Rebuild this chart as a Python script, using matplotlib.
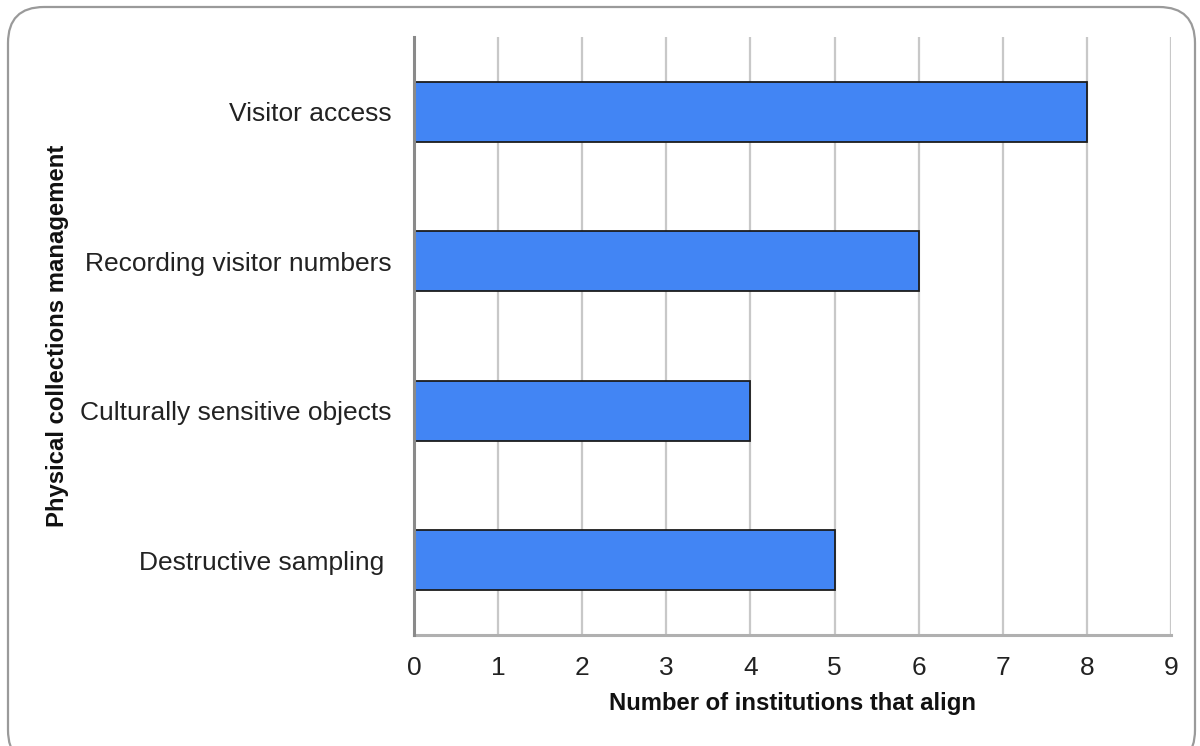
import matplotlib
matplotlib.use("Agg")
import matplotlib.pyplot as plt
from matplotlib.patches import FancyBboxPatch

# Survey results: physical collections management
categories = ["Visitor access", "Recording visitor numbers",
              "Culturally sensitive objects", "Destructive sampling "]
counts = [8, 6, 4, 5]
x_ticks = list(range(0, 10))

plt.rcParams['font.family'] = ['Liberation Sans', 'DejaVu Sans']

W, H = 1200, 746
fig = plt.figure(figsize=(W / 100, H / 100), dpi=100)

# Rounded frame around the chart
frame = FancyBboxPatch((8 / W, -20 / H), (1187) / W, (739 + 20) / H,
                       boxstyle="round,pad=0,rounding_size=0.03",
                       transform=fig.transFigure, facecolor="white",
                       edgecolor="#9a9a9a", linewidth=1.6, zorder=-10,
                       mutation_aspect=W / H)
fig.add_artist(frame)

ax = fig.add_axes([414 / W, 1 - 635 / H, (1171 - 414) / W, (635 - 37) / H])
ax.set_facecolor("none")
ax.set_zorder(5)

ypos = list(range(len(categories)))
ax.barh(ypos, counts, height=0.4, color="#4285f4", edgecolor="#1c1c1c",
        linewidth=1.3, zorder=3)

ax.set_xlim(0, 9)
ax.set_ylim(len(categories) - 0.5, -0.5)
ax.set_xticks(x_ticks)
ax.set_xticklabels([str(t) for t in x_ticks], fontsize=19, color="#222222")
ax.set_yticks(ypos)
ax.set_yticklabels(categories, fontsize=19, color="#222222")
ax.tick_params(axis="both", length=0)
ax.tick_params(axis="x", pad=15)
ax.tick_params(axis="y", pad=16)

ax.grid(axis="x", color="#c8c8c8", linewidth=1.6, zorder=1)
ax.set_axisbelow(True)

for side in ("top", "right"):
    ax.spines[side].set_visible(False)
ax.spines["left"].set_color("#8a8a8a")
ax.spines["left"].set_linewidth(2.2)
ax.spines["left"].set_zorder(4)
ax.spines["bottom"].set_color("#b0b0b0")
ax.spines["bottom"].set_linewidth(2.2)

ax.set_xlabel("Number of institutions that align", fontsize=17.2,
              fontweight="bold", color="#111111", labelpad=9)
ax.set_ylabel("Physical collections management", fontsize=17.2,
              fontweight="bold", color="#111111")
ax.yaxis.set_label_coords(-(414 - 69) / (1171 - 414), 0.5)

fig.savefig("out.png", dpi=100)
